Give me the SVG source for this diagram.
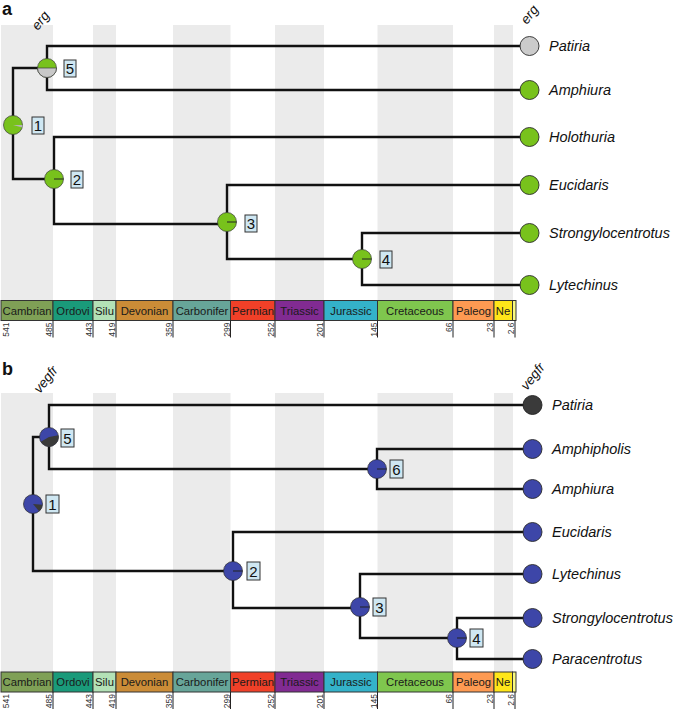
<svg xmlns="http://www.w3.org/2000/svg" width="673" height="709" viewBox="0 0 673 709">
<style>
.band{fill:#ebebeb}
.br{fill:none;stroke:#111;stroke-width:2.4;stroke-linecap:square}
.tipg{fill:#78c21c;stroke:#2a2a2a;stroke-width:0.9}
.tipb{fill:#3d46a8;stroke:#2a2a2a;stroke-width:0.9}
.pg{fill:#78c21c;stroke:#3a3a3a;stroke-width:0.7}
.pb{fill:#3d46a8;stroke:#2a2a2a;stroke-width:0.7}
.tick{stroke:#222;stroke-width:1}
.sp{font-family:"Liberation Sans",Arial,sans-serif;font-style:italic;font-size:14.5px;fill:#111}
.gene{font-family:"Liberation Sans",Arial,sans-serif;font-style:italic;font-size:13.5px;fill:#111}
.box{fill:#cfe7f2;stroke:#333;stroke-width:1}
.num{font-family:"Liberation Sans",Arial,sans-serif;font-size:15px;fill:#111;text-anchor:middle}
.per{stroke:#333;stroke-width:1}
.pt{font-family:"Liberation Sans",Arial,sans-serif;font-size:11.3px;fill:#1a1a1a;text-anchor:middle}
.tl{font-family:"Liberation Sans",Arial,sans-serif;font-size:8.5px;fill:#333;text-anchor:end}
.pl{font-family:"Liberation Sans",Arial,sans-serif;font-size:18px;font-weight:bold;fill:#111}
.sl{stroke:#222;stroke-width:1}
</style>
<defs>
<g id="timescale">
<rect class="per" x="1" y="0" width="52" height="20" fill="#7fa056"/>
<rect class="per" x="53" y="0" width="40" height="20" fill="#1a9a7a"/>
<rect class="per" x="93" y="0" width="23" height="20" fill="#b3e1b6"/>
<rect class="per" x="116" y="0" width="57" height="20" fill="#cb8c37"/>
<rect class="per" x="173" y="0" width="57.5" height="20" fill="#67a599"/>
<rect class="per" x="230.5" y="0" width="44.5" height="20" fill="#f04028"/>
<rect class="per" x="275" y="0" width="49" height="20" fill="#812b92"/>
<rect class="per" x="324" y="0" width="53.5" height="20" fill="#34b2c9"/>
<rect class="per" x="377.5" y="0" width="75.5" height="20" fill="#7fc64e"/>
<rect class="per" x="453" y="0" width="41" height="20" fill="#fd9a52"/>
<rect class="per" x="494" y="0" width="18.5" height="20" fill="#ffe619"/>
<rect class="per" x="512.5" y="0" width="3.5" height="20" fill="#f9f97f"/>
<text class="pt" x="27" y="14">Cambrian</text>
<text class="pt" x="73" y="14">Ordovi</text>
<text class="pt" x="104.5" y="14">Silu</text>
<text class="pt" x="144.5" y="14">Devonian</text>
<text class="pt" x="202" y="14">Carbonifer</text>
<text class="pt" x="253" y="14">Permian</text>
<text class="pt" x="299.5" y="14">Triassic</text>
<text class="pt" x="351" y="14">Jurassic</text>
<text class="pt" x="415" y="14">Cretaceous</text>
<text class="pt" x="473.5" y="14">Paleog</text>
<text class="pt" x="503" y="14">Ne</text>
<line class="tick" x1="53" y1="20" x2="53" y2="37"/>
<line class="tick" x1="93" y1="20" x2="93" y2="37"/>
<line class="tick" x1="116" y1="20" x2="116" y2="37"/>
<line class="tick" x1="173" y1="20" x2="173" y2="37"/>
<line class="tick" x1="230.5" y1="20" x2="230.5" y2="37"/>
<line class="tick" x1="275" y1="20" x2="275" y2="37"/>
<line class="tick" x1="324" y1="20" x2="324" y2="37"/>
<line class="tick" x1="377.5" y1="20" x2="377.5" y2="37"/>
<line class="tick" x1="453" y1="20" x2="453" y2="37"/>
<line class="tick" x1="494" y1="20" x2="494" y2="37"/>
<line class="tick" x1="515" y1="20" x2="515" y2="37"/>
<text class="tl" transform="translate(9,22) rotate(-90)">541</text>
<text class="tl" transform="translate(52,22) rotate(-90)">485</text>
<text class="tl" transform="translate(92,22) rotate(-90)">443</text>
<text class="tl" transform="translate(115,22) rotate(-90)">419</text>
<text class="tl" transform="translate(172,22) rotate(-90)">359</text>
<text class="tl" transform="translate(229.5,22) rotate(-90)">299</text>
<text class="tl" transform="translate(274,22) rotate(-90)">252</text>
<text class="tl" transform="translate(323,22) rotate(-90)">201</text>
<text class="tl" transform="translate(376.5,22) rotate(-90)">145</text>
<text class="tl" transform="translate(452,22) rotate(-90)">66</text>
<text class="tl" transform="translate(493,22) rotate(-90)">23</text>
<text class="tl" transform="translate(514,22) rotate(-90)">2.6</text>
</g>
</defs>

<!-- ========== Panel a ========== -->
<g id="panel-a-background">
<rect class="band" x="1" y="25" width="52" height="275"/>
<rect class="band" x="93" y="25" width="23" height="275"/>
<rect class="band" x="173" y="25" width="57.5" height="275"/>
<rect class="band" x="275" y="25" width="49" height="275"/>
<rect class="band" x="377.5" y="25" width="75.5" height="275"/>
<rect class="band" x="494" y="25" width="19" height="275"/>
</g>
<text class="pl" x="2" y="15">a</text>
<text class="gene" transform="translate(38,31) rotate(-52)">erg</text>
<text class="gene" transform="translate(527,25) rotate(-52)">erg</text>

<g id="connectors-a">
<path class="br" d="M13,68 V179 M13,68 H47 M13,179 H54"/>
<path class="br" d="M47,46 V90 M47,46 H520 M47,90 H520"/>
<path class="br" d="M54,137 V224 M54,137 H520 M54,224 H227"/>
<path class="br" d="M227,185 V259 M227,185 H520 M227,259 H362"/>
<path class="br" d="M362,233 V285 M362,233 H520 M362,285 H520"/>
</g>

<g id="a-node1">
<circle class="pg" cx="13" cy="125" r="9.5"/>
<path d="M13,125 L22.5,125 A9.5,9.5 0 0 1 22.18,127.46 Z" fill="#b5b5b5"/>
<rect class="box" x="32" y="117" width="12" height="17"/><text class="num" x="38" y="131">1</text>
</g>
<g id="a-node5">
<circle class="pg" cx="47" cy="68" r="9.5"/>
<path d="M37.5,68 A9.5,9.5 0 0 0 56.5,68 Z" fill="#c8c8c8" stroke="#3a3a3a" stroke-width="0.7"/>
<rect class="box" x="64" y="60" width="12" height="17"/><text class="num" x="70" y="74">5</text>
</g>
<g id="a-node2">
<circle class="pg" cx="54" cy="179" r="9.5"/><line class="sl" x1="54" y1="179" x2="63.5" y2="179"/>
<rect class="box" x="71" y="171" width="12" height="17"/><text class="num" x="77" y="185">2</text>
</g>
<g id="a-node3">
<circle class="pg" cx="227" cy="222" r="9.5"/><line class="sl" x1="227" y1="222" x2="236.5" y2="222"/>
<rect class="box" x="245" y="215" width="12" height="17"/><text class="num" x="251" y="229">3</text>
</g>
<g id="a-node4">
<circle class="pg" cx="362" cy="259" r="9.5"/><line class="sl" x1="362" y1="259" x2="371.5" y2="259"/>
<rect class="box" x="380" y="251" width="12" height="17"/><text class="num" x="386" y="265">4</text>
</g>

<g id="a-tip-patiria"><circle cx="529.5" cy="46" r="9.5" fill="#cbcbcb" stroke="#2a2a2a" stroke-width="0.9"/><text class="sp" x="549" y="51">Patiria</text></g>
<g id="a-tip-amphiura"><circle class="tipg" cx="529.5" cy="90" r="9.5"/><text class="sp" x="549" y="95">Amphiura</text></g>
<g id="a-tip-holothuria"><circle class="tipg" cx="529.5" cy="137" r="9.5"/><text class="sp" x="549" y="142">Holothuria</text></g>
<g id="a-tip-eucidaris"><circle class="tipg" cx="529.5" cy="185" r="9.5"/><text class="sp" x="549" y="190">Eucidaris</text></g>
<g id="a-tip-strongylocentrotus"><circle class="tipg" cx="529.5" cy="233" r="9.5"/><text class="sp" x="549" y="238">Strongylocentrotus</text></g>
<g id="a-tip-lytechinus"><circle class="tipg" cx="529.5" cy="285" r="9.5"/><text class="sp" x="549" y="290">Lytechinus</text></g>

<g id="a-timescale"><use href="#timescale" transform="translate(0,300.5)"/></g>

<!-- ========== Panel b ========== -->
<g id="panel-b-background">
<rect class="band" x="1" y="393" width="52" height="279"/>
<rect class="band" x="93" y="393" width="23" height="279"/>
<rect class="band" x="173" y="393" width="57.5" height="279"/>
<rect class="band" x="275" y="393" width="49" height="279"/>
<rect class="band" x="377.5" y="393" width="75.5" height="279"/>
<rect class="band" x="494" y="393" width="19" height="279"/>
</g>
<text class="pl" x="2" y="375">b</text>
<text class="gene" transform="translate(40,394) rotate(-52)">vegfr</text>
<text class="gene" transform="translate(527,391) rotate(-52)">vegfr</text>

<g id="connectors-b">
<path class="br" d="M33,437 V571 M33,437 H49 M33,571 H233"/>
<path class="br" d="M49,405 V469 M49,405 H523 M49,469 H377"/>
<path class="br" d="M377,449 V489 M377,449 H523 M377,489 H523"/>
<path class="br" d="M233,532 V608 M233,532 H523 M233,608 H360"/>
<path class="br" d="M360,574 V638 M360,574 H523 M360,638 H457"/>
<path class="br" d="M457,618 V659 M457,618 H523 M457,659 H523"/>
</g>

<g id="b-node1">
<circle class="pb" cx="33" cy="504" r="9.5"/>
<path d="M33,504 L42.46,504.83 A9.5,9.5 0 0 1 39.11,511.28 Z" fill="#3a3a3a"/>
<rect class="box" x="46" y="495" width="13" height="18"/><text class="num" x="52.5" y="510">1</text>
</g>
<g id="b-node5">
<circle class="pb" cx="49" cy="437" r="9.5"/>
<path d="M49,437 L58.36,435.35 A9.5,9.5 0 0 1 40.77,441.75 Z" fill="#3a3a3a"/>
<rect class="box" x="61" y="429" width="13" height="18"/><text class="num" x="67.5" y="444">5</text>
</g>
<g id="b-node6">
<circle class="pb" cx="377" cy="469" r="9.5"/><line class="sl" x1="377" y1="469" x2="386.5" y2="469"/>
<rect class="box" x="390" y="460" width="13" height="18"/><text class="num" x="396.5" y="475">6</text>
</g>
<g id="b-node2">
<circle class="pb" cx="233" cy="571" r="9.5"/><line class="sl" x1="233" y1="571" x2="242.5" y2="571"/>
<rect class="box" x="247" y="562" width="13" height="18"/><text class="num" x="253.5" y="577">2</text>
</g>
<g id="b-node3">
<circle class="pb" cx="360" cy="607" r="9.5"/><line class="sl" x1="360" y1="607" x2="369.5" y2="607"/>
<rect class="box" x="373" y="598" width="13" height="18"/><text class="num" x="379.5" y="613">3</text>
</g>
<g id="b-node4">
<circle class="pb" cx="457" cy="638" r="9.5"/><line class="sl" x1="457" y1="638" x2="466.5" y2="638"/>
<rect class="box" x="470" y="629" width="13" height="18"/><text class="num" x="476.5" y="644">4</text>
</g>

<g id="b-tip-patiria"><circle cx="532.5" cy="405" r="9.5" fill="#3a3a3a" stroke="#222" stroke-width="0.9"/><text class="sp" x="552" y="410">Patiria</text></g>
<g id="b-tip-amphipholis"><circle class="tipb" cx="532.5" cy="449" r="9.5"/><text class="sp" x="552" y="454">Amphipholis</text></g>
<g id="b-tip-amphiura"><circle class="tipb" cx="532.5" cy="489" r="9.5"/><text class="sp" x="552" y="494">Amphiura</text></g>
<g id="b-tip-eucidaris"><circle class="tipb" cx="532.5" cy="532" r="9.5"/><text class="sp" x="552" y="537">Eucidaris</text></g>
<g id="b-tip-lytechinus"><circle class="tipb" cx="532.5" cy="574" r="9.5"/><text class="sp" x="552" y="579">Lytechinus</text></g>
<g id="b-tip-strongylocentrotus"><circle class="tipb" cx="532.5" cy="618" r="9.5"/><text class="sp" x="552" y="623">Strongylocentrotus</text></g>
<g id="b-tip-paracentrotus"><circle class="tipb" cx="532.5" cy="659" r="9.5"/><text class="sp" x="552" y="664">Paracentrotus</text></g>

<g id="b-timescale"><use href="#timescale" transform="translate(0,672)"/></g>
</svg>
